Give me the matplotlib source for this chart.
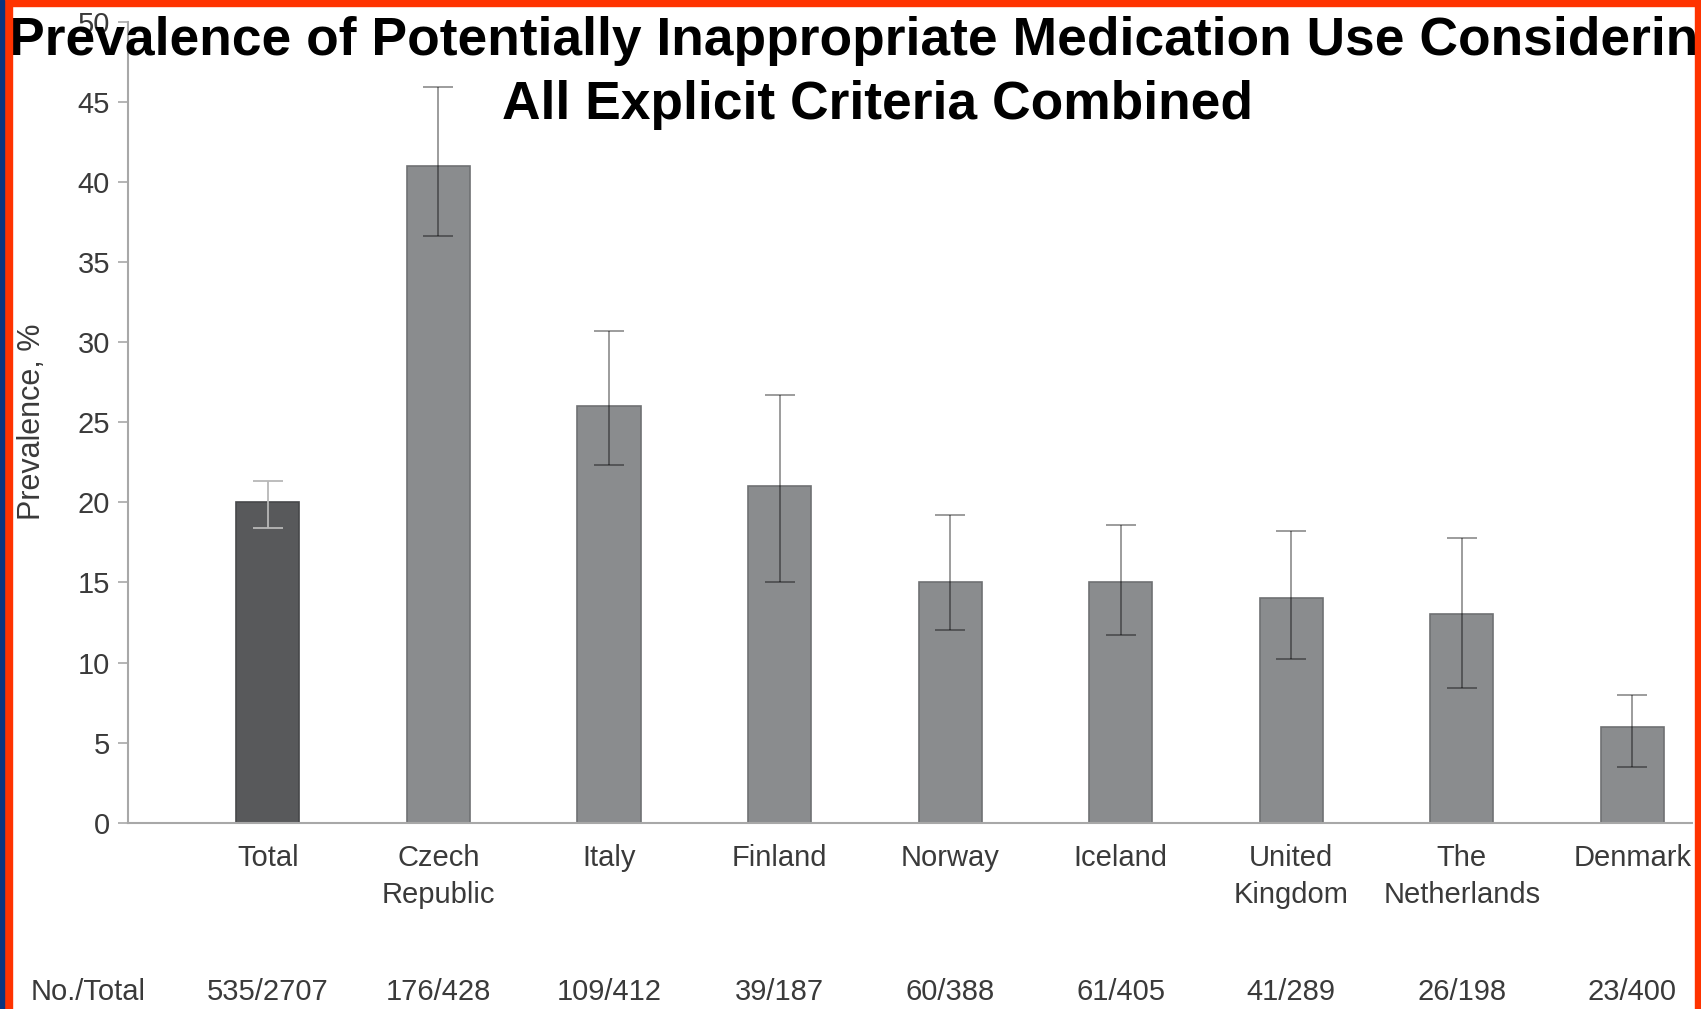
import matplotlib
matplotlib.use("Agg")
import matplotlib.pyplot as plt
from matplotlib.patches import Rectangle

# Prevalence of potentially inappropriate medication use, by country
categories = ["Total", "Czech\nRepublic", "Italy", "Finland", "Norway",
              "Iceland", "United\nKingdom", "The\nNetherlands", "Denmark"]
prevalence = [20, 41, 26, 21, 15, 15, 14, 13, 6]
ci_low = [18.4, 36.6, 22.3, 15.0, 12.0, 11.7, 10.2, 8.4, 3.5]
ci_high = [21.3, 45.9, 30.7, 26.7, 19.2, 18.6, 18.2, 17.8, 8.0]
counts = ["535/2707", "176/428", "109/412", "39/187", "60/388",
          "61/405", "41/289", "26/198", "23/400"]
yticks = [0, 5, 10, 15, 20, 25, 30, 35, 40, 45, 50]
title_lines = ["Prevalence of Potentially Inappropriate Medication Use Considering",
               "All Explicit Criteria Combined"]

plt.rcParams["font.family"] = ["Liberation Sans", "DejaVu Sans"]

W, H = 1701, 1009
fig = plt.figure(figsize=(W / 100, H / 100), dpi=100)
fig.patch.set_facecolor("white")

ax_left, ax_right, ax_bottom, ax_top = 128, 1692, 822.7, 21.7
ax = fig.add_axes([ax_left / W, 1 - ax_bottom / H,
                   (ax_right - ax_left) / W, (ax_bottom - ax_top) / H])

x = list(range(len(categories)))
bar_colors = ["#58595b"] + ["#8a8c8e"] * (len(categories) - 1)
edge_colors = ["#47484a"] + ["#6f7173"] * (len(categories) - 1)
ax.bar(x, prevalence, width=0.37, color=bar_colors, edgecolor=edge_colors,
       linewidth=1.2, zorder=2)

for i, (v, lo, hi) in enumerate(zip(prevalence, ci_low, ci_high)):
    if i == 0:
        kw = dict(ecolor="#b8b8b8", alpha=1.0)
    else:
        kw = dict(ecolor="black", alpha=0.42)
    ax.errorbar(i, v, yerr=[[v - lo], [hi - v]], fmt="none", elinewidth=1.3,
                capsize=11, capthick=1.3, zorder=3, **kw)

ax.set_xlim(-0.82, 8.35)
ax.set_ylim(0, 50)
ax.set_yticks(yticks)
ax.set_xticks(x)
ax.set_xticklabels(categories, fontsize=21, color="#3a3a3a", linespacing=1.45)
ax.tick_params(axis="x", length=0, pad=15)
ax.tick_params(axis="y", length=7, width=1.2, color="#a8a8a8", pad=6,
               labelsize=21, labelcolor="#3a3a3a")

for side in ("top", "right"):
    ax.spines[side].set_visible(False)
for side in ("left", "bottom"):
    ax.spines[side].set_color("#a8a8a8")
    ax.spines[side].set_linewidth(1.5)

ax.set_ylabel("Prevalence, %", fontsize=22, color="#3a3a3a")
ax.yaxis.set_label_coords(-(ax_left - 47) / (ax_right - ax_left), 0.5)

# Sample counts row
fig.text(88 / W, 1 - 992 / H, "No./Total", fontsize=21, color="#3a3a3a",
         ha="center", va="center")
for i, c in enumerate(counts):
    xd = ax.transData.transform((i, 0))[0]
    fig.text(xd / W, 1 - 992 / H, c, fontsize=21, color="#3a3a3a",
             ha="center", va="center")

# Two-line bold title
for line, cx, base in zip(title_lines, (870, 877), (55, 119)):
    fig.text(cx / W, 1 - base / H, line, fontsize=38.4, fontweight="bold",
             color="black", ha="center", va="baseline", zorder=5)

# Frame around the figure
frame_red = "#ff3300"
fig.add_artist(Rectangle((0, 1 - 6 / H), 1, 6 / H, transform=fig.transFigure,
                         color=frame_red, zorder=10))
fig.add_artist(Rectangle((0, 0), 4 / W, 1, transform=fig.transFigure,
                         color="#0a3580", zorder=11))
fig.add_artist(Rectangle((4 / W, 0), 8 / W, 1, transform=fig.transFigure,
                         color=frame_red, zorder=10))
fig.add_artist(Rectangle((1695 / W, 0), 6 / W, 1, transform=fig.transFigure,
                         color=frame_red, zorder=10))

fig.savefig("out.png", dpi=100)
